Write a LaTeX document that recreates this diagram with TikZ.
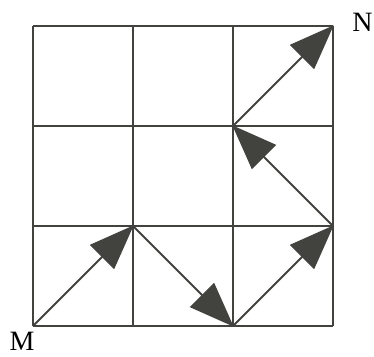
\documentclass[tikz,border=0pt]{standalone}
\usepackage{fontspec}
\setmainfont{Liberation Serif}
\usetikzlibrary{arrows.meta}
\definecolor{ink}{HTML}{42423E}
\tikzset{
  gridline/.style={draw=ink, line width=2pt},
  movearrow/.style={draw=ink, line width=2pt, -{Triangle[length=45pt,width=34pt,fill=ink]}, shorten >=-1pt},
  lab/.style={font=\fontsize{28}{28}\selectfont, text=black, inner sep=0pt}
}
\begin{document}
\begin{tikzpicture}[x=1pt,y=1pt]
\useasboundingbox (0,0) rectangle (374,356);
% grid
\foreach \i in {0,1,2,3} {
  \draw[gridline] (33+100*\i,30) -- (33+100*\i,330);
  \draw[gridline] (33,30+100*\i) -- (333,30+100*\i);
}
\coordinate (M) at (33,30);
\coordinate (A) at (133,130);
\coordinate (B) at (233,30);
\coordinate (C) at (333,130);
\coordinate (D) at (233,230);
\coordinate (N) at (333,330);
\draw[movearrow] (M) -- (A);
\draw[movearrow] (A) -- (B);
\draw[movearrow] (B) -- (C);
\draw[movearrow] (C) -- (D);
\draw[movearrow] (D) -- (N);
\node[lab] (lM) at (22,14.5) {M};
\node[lab] (lN) at (362.5,333.5) {N};
\end{tikzpicture}
\end{document}
